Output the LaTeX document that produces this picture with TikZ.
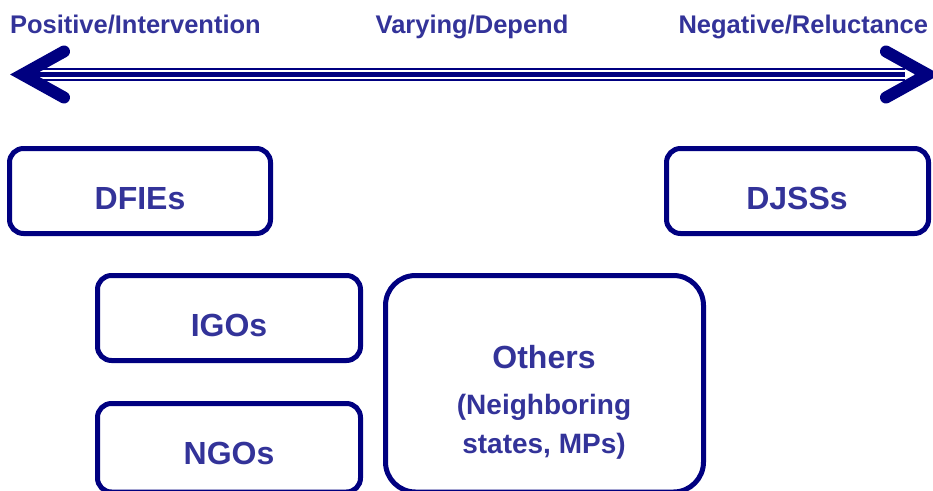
\documentclass[tikz,border=0pt]{standalone}
\usepackage{fontspec}
\setmainfont{Liberation Sans}
\begin{document}
\begin{tikzpicture}[x=1pt,y=-1pt,
  every node/.style={inner sep=0pt, outer sep=0pt},
  txt/.style={text=labelblue, font=\bfseries\fontsize{32}{38}\selectfont, anchor=base},
  toptxt/.style={text=labelblue, font=\bfseries\fontsize{25.5}{30}\selectfont, anchor=base},
  subtxt/.style={text=labelblue, font=\bfseries\fontsize{28}{34}\selectfont, anchor=base},
  actor/.style={draw=edgenavy, line width=5pt, rounded corners=14pt},
  bigactor/.style={draw=edgenavy, line width=5pt, rounded corners=30pt},
  head/.style={draw=edgenavy, line width=12pt, line cap=round, line join=miter}
]
\definecolor{edgenavy}{RGB}{0,0,128}
\definecolor{labelblue}{RGB}{51,51,153}
\useasboundingbox (0,0) rectangle (933,490);
\clip (0,0) rectangle (933,490);

% scale labels
\node[toptxt, anchor=base west] (pos) at (10,33) {Positive/Intervention};
\node[toptxt] (var) at (472,33) {Varying/Depend};
\node[toptxt, anchor=base east] (neg) at (928,33) {Negative/Reluctance};

% double-ended scale arrow
\coordinate (sl) at (30,74.5);
\coordinate (sr) at (905,74.5);
\draw[edgenavy, line width=13pt] (sl) -- (sr);
\draw[white, line width=8.6pt] (sl) -- (sr);
\draw[edgenavy, line width=4.4pt] (sl) -- (sr);
\coordinate (tl) at (22.5,74.5);
\coordinate (tr) at (927.5,74.5);
\draw[head] (64,51.5) -- (tl) -- (64,97.5);
\draw[head] (886,51.5) -- (tr) -- (886,97.5);

% actor boxes
\draw[actor] (9.5,148.5) rectangle (270.5,233.5);
\node[txt] (dfies) at (140,209) {DFIEs};

\draw[actor] (666.5,148.5) rectangle (928.5,233.5);
\node[txt] (djsss) at (797,209) {DJSSs};

\draw[actor] (97.5,275.5) rectangle (360.5,360.5);
\node[txt] (igos) at (229,336) {IGOs};

\draw[actor] (97.5,403.5) rectangle (360.5,492);
\node[txt] (ngos) at (229,464) {NGOs};

\draw[bigactor] (385.5,275.5) rectangle (703.5,492);
\node[txt] (others) at (544,368) {Others};
\node[subtxt] (neigh) at (544,414) {(Neighboring};
\node[subtxt] (mps) at (544,453) {states, MPs)};
\end{tikzpicture}
\end{document}
